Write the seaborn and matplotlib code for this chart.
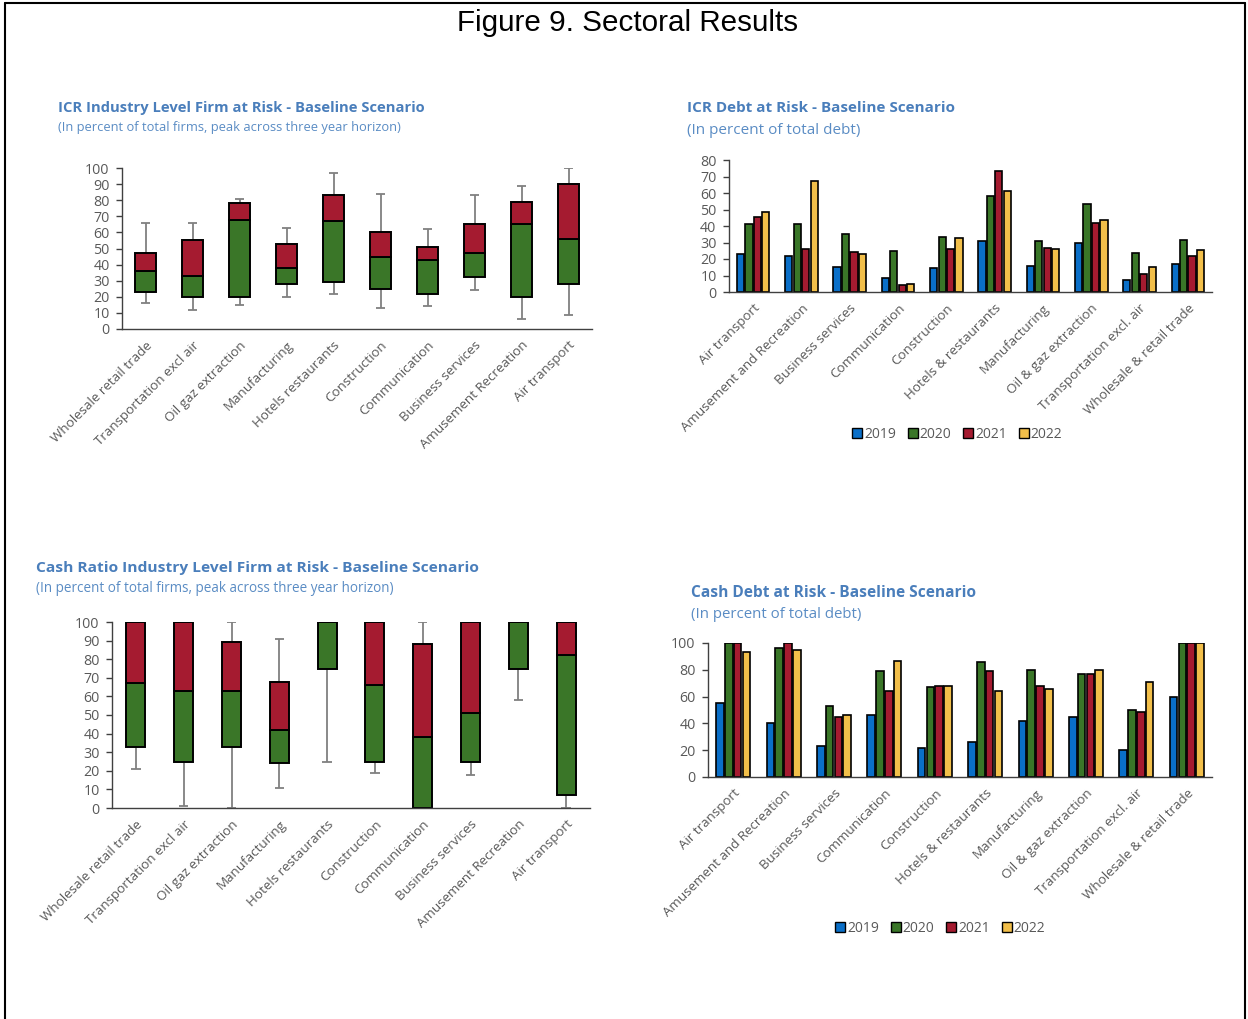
import matplotlib
matplotlib.use("Agg")
import matplotlib.pyplot as plt
import seaborn as sns
import pandas as pd
import numpy as np
from matplotlib.lines import Line2D

sns.set_theme(style="white")
plt.rcParams['font.family'] = ['Open Sans', 'DejaVu Sans']

# ---------------- data ----------------
box_sectors = ["Wholesale retail trade", "Transportation excl air", "Oil gaz extraction",
               "Manufacturing", "Hotels restaurants", "Construction", "Communication",
               "Business services", "Amusement Recreation", "Air transport"]

icr_low = [16, 12, 15, 20, 22, 13, 14, 24, 6, 9]
icr_q1 = [23, 20, 20, 28, 29, 25, 22, 32, 20, 28]
icr_med = [36, 33, 68, 38, 67, 45, 43, 47, 65, 56]
icr_q3 = [47, 55, 78, 53, 83, 60, 51, 65, 79, 90]
icr_high = [66, 66, 81, 63, 97, 84, 62, 83, 89, 100]

cash_low = [21, 1, 0, 11, 25, 19, 0, 18, 58, 0]
cash_q1 = [33, 25, 33, 24, 75, 25, 0, 25, 75, 7]
cash_med = [67, 63, 63, 42, 100, 66, 38, 51, 100, 82]
cash_q3 = [100, 100, 89, 68, 100, 100, 88, 100, 100, 100]
cash_high = [100, 100, 100, 91, 100, 100, 100, 100, 100, 100]

bar_sectors = ["Air transport", "Amusement and Recreation", "Business services",
               "Communication", "Construction", "Hotels & restaurants", "Manufacturing",
               "Oil & gaz extraction", "Transportation excl. air", "Wholesale & retail trade"]
years = ["2019", "2020", "2021", "2022"]

icr_debt_2019 = [23, 22, 15, 8.5, 14.5, 31, 16, 30, 7.5, 17]
icr_debt_2020 = [41, 41, 35, 25, 33.5, 58, 31, 53.5, 23.5, 31.5]
icr_debt_2021 = [45.5, 26, 24, 4.5, 26, 73.5, 26.5, 42, 11, 22]
icr_debt_2022 = [48.5, 67.5, 23, 5, 32.5, 61, 26, 43.5, 15, 25.5]

cash_debt_2019 = [55, 40.5, 23, 46, 22, 26, 42, 44.5, 20.5, 60]
cash_debt_2020 = [100, 96, 53, 79, 67, 86, 80, 77, 50, 100]
cash_debt_2021 = [100, 100, 45, 64, 68, 79, 68, 76.5, 48.5, 100]
cash_debt_2022 = [93, 94.5, 46, 86.5, 68, 64.5, 65.5, 79.5, 71, 100]

# ---------------- style ----------------
GREEN = "#3a7628"
RED = "#a51b30"
YEAR_COLORS = ["#0a6fc8", "#3a7628", "#a51b30", "#f2bf4a"]
TITLE_C = "#4a7ebb"
SUB_C = "#5a8cc4"
TICK_C = "#595959"
AXIS_C = "#404040"
WHISK_C = "#808080"

W, H = 1248, 1019
fig = plt.figure(figsize=(W / 100, H / 100), dpi=100)


def px_axes(left, right, top, bottom):
    return fig.add_axes([left / W, 1 - bottom / H, (right - left) / W, (bottom - top) / H])


def style_axes(ax, yticks, labels):
    ax.set_xlim(-0.5, len(labels) - 0.5)
    ax.set_ylim(yticks[0], yticks[-1])
    ax.set_yticks(yticks)
    ax.set_xticks(np.arange(len(labels)))
    ax.set_xticks(np.arange(-0.5, len(labels), 1.0), minor=True)
    ax.set_xticklabels(labels, rotation=45, ha="right", rotation_mode="anchor")
    ax.tick_params(axis="x", which="major", length=0, pad=7, labelsize=9.6, labelcolor=TICK_C)
    ax.tick_params(axis="x", which="minor", length=5, width=1, color=AXIS_C, direction="out")
    ax.tick_params(axis="y", length=4, width=1, color=AXIS_C, direction="out",
                   labelsize=10.3, labelcolor=TICK_C, pad=5, left=True)
    for s in ["top", "right"]:
        ax.spines[s].set_visible(False)
    for s in ["left", "bottom"]:
        ax.spines[s].set_color(AXIS_C)
        ax.spines[s].set_linewidth(1.0)
    ax.set_xlabel("")
    ax.set_ylabel("")
    ax.grid(False)


def box_panel(ax, low, q1, med, q3, high, bw):
    df = pd.DataFrame({"sector": box_sectors, "low": low, "q1": q1, "med": med,
                       "q3": q3, "high": high})
    df["lower"] = df["med"] - df["q1"]
    df["upper"] = df["q3"] - df["med"]
    x = np.arange(len(df))
    ax.vlines(x, df["low"], df["q1"], color=WHISK_C, lw=1.3, zorder=1)
    ax.vlines(x, df["q3"], df["high"], color=WHISK_C, lw=1.3, zorder=1)
    ax.hlines(df["low"], x - 0.1, x + 0.1, color=WHISK_C, lw=1.3, zorder=1)
    ax.hlines(df["high"], x - 0.1, x + 0.1, color=WHISK_C, lw=1.3, zorder=1)
    sns.barplot(data=df, x="sector", y="lower", bottom=df["q1"].to_numpy(), color=GREEN,
                edgecolor="black", linewidth=1.4, width=bw, saturation=1,
                errorbar=None, ax=ax, zorder=2)
    sns.barplot(data=df, x="sector", y="upper", bottom=df["med"].to_numpy(), color=RED,
                edgecolor="black", linewidth=1.4, width=bw, saturation=1,
                errorbar=None, ax=ax, zorder=2)
    style_axes(ax, list(range(0, 101, 10)), box_sectors)


def bar_panel(ax, series, yticks):
    rows = []
    for yr, vals in zip(years, series):
        for sec, v in zip(bar_sectors, vals):
            rows.append({"sector": sec, "year": yr, "value": v})
    df = pd.DataFrame(rows)
    sns.barplot(data=df, x="sector", y="value", hue="year", order=bar_sectors,
                hue_order=years, palette=YEAR_COLORS, edgecolor="black", linewidth=1.2,
                width=0.7, gap=0.15, saturation=1, errorbar=None, ax=ax, legend=False)
    style_axes(ax, yticks, bar_sectors)


def add_legend(ax, cx, cy):
    handles = [Line2D([], [], marker="s", linestyle="", markerfacecolor=c,
                      markeredgecolor="black", markeredgewidth=1.0, markersize=7.5)
               for c in YEAR_COLORS]
    fig.legend(handles, years, loc="center", bbox_to_anchor=(cx / W, 1 - cy / H),
               ncol=4, frameon=False, handlelength=0.8, handletextpad=0.1,
               columnspacing=0.8, prop={"size": 10}, labelcolor=TICK_C)


def titles(x, y1, y2, title, sub, ts, ss):
    fig.text(x / W, 1 - y1 / H, title, color=TITLE_C, fontsize=ts, fontweight="bold",
             va="center", ha="left")
    fig.text(x / W, 1 - y2 / H, sub, color=SUB_C, fontsize=ss, va="center", ha="left")


# ---------------- panels ----------------
ax1 = px_axes(122, 592, 168, 329)
box_panel(ax1, icr_low, icr_q1, icr_med, icr_q3, icr_high, 0.43)
titles(58, 108, 128, "ICR Industry Level Firm at Risk - Baseline Scenario",
       "(In percent of total firms, peak across three year horizon)", 10.6, 9.3)

ax2 = px_axes(729, 1212, 160, 292)
bar_panel(ax2, [icr_debt_2019, icr_debt_2020, icr_debt_2021, icr_debt_2022],
          list(range(0, 81, 10)))
titles(687, 108, 130, "ICR Debt at Risk - Baseline Scenario", "(In percent of total debt)",
       11.0, 11.0)
add_legend(ax2, 957, 434)

ax3 = px_axes(112, 590, 622, 808)
box_panel(ax3, cash_low, cash_q1, cash_med, cash_q3, cash_high, 0.4)
titles(36, 568, 589, "Cash Ratio Industry Level Firm at Risk - Baseline Scenario",
       "(In percent of total firms, peak across three year horizon)", 11.15, 9.75)

ax4 = px_axes(708, 1212, 643, 777)
bar_panel(ax4, [cash_debt_2019, cash_debt_2020, cash_debt_2021, cash_debt_2022],
          list(range(0, 101, 20)))
titles(691, 593, 614, "Cash Debt at Risk - Baseline Scenario", "(In percent of total debt)",
       11.2, 10.8)
add_legend(ax4, 940, 928)

# figure title and frame
fig.text(628 / W, 1 - 23 / H, "Figure 9. Sectoral Results", fontsize=21.3,
         family=["Liberation Sans", "DejaVu Sans"], ha="center", va="center", color="black")
for xs, ys in [([5, 5], [3, H + 5]), ([1245, 1245], [3, H + 5]), ([5, 1245], [3, 3])]:
    fig.add_artist(Line2D([x / W for x in xs], [1 - y / H for y in ys], color="black",
                          lw=1.5, transform=fig.transFigure))

fig.savefig("out.png", dpi=100, facecolor="white")
